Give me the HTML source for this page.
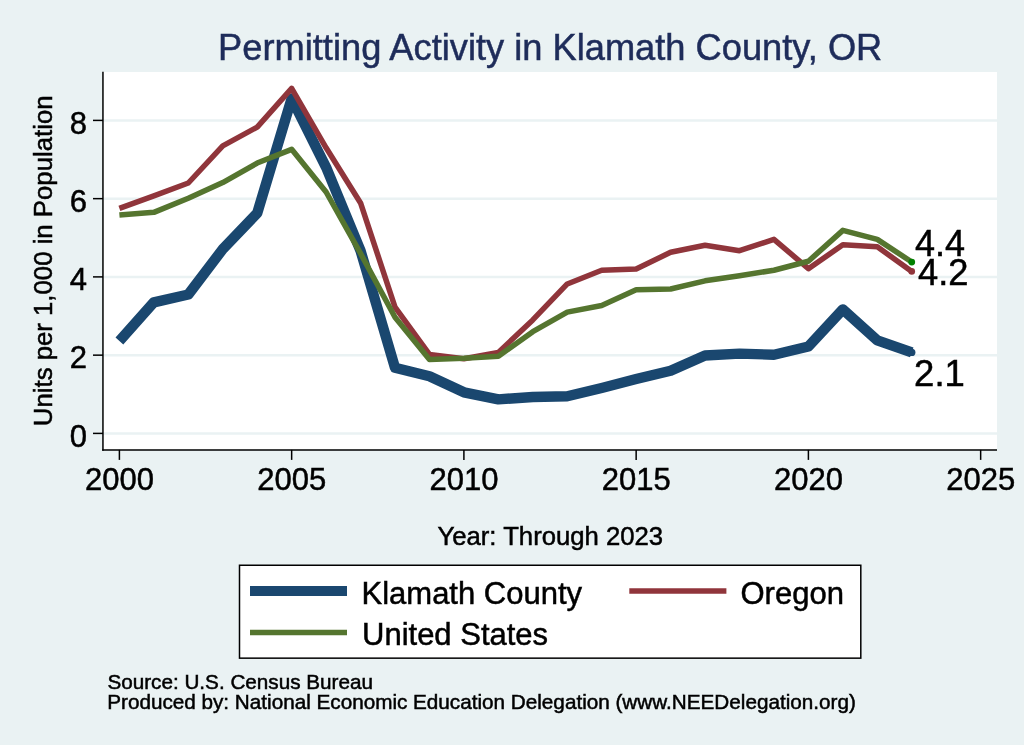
<!DOCTYPE html>
<html><head><meta charset="utf-8"><title>Permitting Activity in Klamath County, OR</title>
<style>
html,body{margin:0;padding:0;background:#EAF2F3;}
body{width:1024px;height:745px;overflow:hidden;}
svg{display:block;will-change:transform;}
text{font-family:'Liberation Sans', Arial, Helvetica, sans-serif;fill:#000;stroke:#000;stroke-width:0.5px;}
</style></head><body>
<svg width="1024" height="745" viewBox="0 0 1024 745">
<rect x="0" y="0" width="1024" height="745" fill="#EAF2F3"/>
<text x="550.2" y="59.8" text-anchor="middle" font-size="36.25" style="fill:#1E2C5A;stroke:#1E2C5A">Permitting Activity in Klamath County, OR</text>
<rect x="103" y="72" width="894" height="377.5" fill="#fff"/>
<line x1="103" y1="433.40" x2="997" y2="433.40" stroke="#EAF2F3" stroke-width="2.5"/><line x1="103" y1="355.15" x2="997" y2="355.15" stroke="#EAF2F3" stroke-width="2.5"/><line x1="103" y1="276.90" x2="997" y2="276.90" stroke="#EAF2F3" stroke-width="2.5"/><line x1="103" y1="198.65" x2="997" y2="198.65" stroke="#EAF2F3" stroke-width="2.5"/><line x1="103" y1="120.40" x2="997" y2="120.40" stroke="#EAF2F3" stroke-width="2.5"/>
<g fill="none" stroke-linejoin="round" stroke-linecap="butt">
<polyline points="119.40,341.06 153.85,302.33 188.30,294.51 222.75,249.12 257.20,213.13 291.65,98.49 326.10,167.35 360.55,250.69 395.00,367.67 429.45,376.28 463.90,392.32 498.35,399.36 532.80,397.01 567.25,396.23 601.70,388.01 636.15,379.02 670.60,370.80 705.05,355.54 739.50,353.58 773.95,354.76 808.40,346.54 842.85,309.37 877.30,340.28 911.75,352.41" stroke="#1A476F" stroke-width="10.4"/>
<polyline points="119.40,208.43 153.85,195.91 188.30,183.00 222.75,145.83 257.20,127.05 291.65,88.32 326.10,147.79 360.55,202.95 395.00,307.03 429.45,354.37 463.90,358.67 498.35,352.41 532.80,319.94 567.25,283.94 601.70,270.25 636.15,269.07 670.60,252.25 705.05,245.21 739.50,250.69 773.95,239.34 808.40,268.68 842.85,244.82 877.30,246.77 911.75,271.42" stroke="#90353B" stroke-width="5.5"/>
<polyline points="119.40,215.08 153.85,212.34 188.30,198.26 222.75,182.61 257.20,163.05 291.65,149.35 326.10,192.00 360.55,253.42 395.00,317.20 429.45,359.45 463.90,358.28 498.35,356.32 532.80,331.67 567.25,312.11 601.70,305.46 636.15,289.81 670.60,289.03 705.05,280.81 739.50,275.73 773.95,270.25 808.40,261.25 842.85,230.34 877.30,239.34 911.75,262.03" stroke="#55752F" stroke-width="5.5"/>
</g>
<circle cx="911.75" cy="352.41" r="3.7" fill="#1A476F"/>
<circle cx="911.75" cy="271.42" r="3.3" fill="#90353B"/>
<circle cx="911.75" cy="262.03" r="3.4" fill="#008000"/>
<text x="915" y="255.8" font-size="36">4.4</text>
<text x="918" y="284.7" font-size="36.3">4.2</text>
<text x="914.1" y="385.7" font-size="36.5">2.1</text>
<line x1="102.95" y1="71.7" x2="102.95" y2="450.7" stroke="#000" stroke-width="1.5"/>
<line x1="102.2" y1="449.95" x2="997" y2="449.95" stroke="#000" stroke-width="1.5"/>
<line x1="93" y1="433.40" x2="103" y2="433.40" stroke="#000" stroke-width="1.5"/><line x1="93" y1="355.15" x2="103" y2="355.15" stroke="#000" stroke-width="1.5"/><line x1="93" y1="276.90" x2="103" y2="276.90" stroke="#000" stroke-width="1.5"/><line x1="93" y1="198.65" x2="103" y2="198.65" stroke="#000" stroke-width="1.5"/><line x1="93" y1="120.40" x2="103" y2="120.40" stroke="#000" stroke-width="1.5"/><text x="87" y="446.70" text-anchor="end" font-size="31">0</text><text x="87" y="368.45" text-anchor="end" font-size="31">2</text><text x="87" y="290.20" text-anchor="end" font-size="31">4</text><text x="87" y="211.95" text-anchor="end" font-size="31">6</text><text x="87" y="133.70" text-anchor="end" font-size="31">8</text><line x1="119.40" y1="449.9" x2="119.40" y2="459.9" stroke="#000" stroke-width="1.5"/><line x1="291.65" y1="449.9" x2="291.65" y2="459.9" stroke="#000" stroke-width="1.5"/><line x1="463.90" y1="449.9" x2="463.90" y2="459.9" stroke="#000" stroke-width="1.5"/><line x1="636.15" y1="449.9" x2="636.15" y2="459.9" stroke="#000" stroke-width="1.5"/><line x1="808.40" y1="449.9" x2="808.40" y2="459.9" stroke="#000" stroke-width="1.5"/><line x1="980.65" y1="449.9" x2="980.65" y2="459.9" stroke="#000" stroke-width="1.5"/><text x="119.40" y="490" text-anchor="middle" font-size="31">2000</text><text x="291.65" y="490" text-anchor="middle" font-size="31">2005</text><text x="463.90" y="490" text-anchor="middle" font-size="31">2010</text><text x="636.15" y="490" text-anchor="middle" font-size="31">2015</text><text x="808.40" y="490" text-anchor="middle" font-size="31">2020</text><text x="980.65" y="490" text-anchor="middle" font-size="31">2025</text>
<text transform="translate(52,260.8) rotate(-90)" text-anchor="middle" font-size="25.75">Units per 1,000 in Population</text>
<text x="550.3" y="545" text-anchor="middle" font-size="25.7">Year: Through 2023</text>
<rect x="239.5" y="565.25" width="621.3" height="92.9" fill="#fff" stroke="#000" stroke-width="1.5"/>
<line x1="250" y1="591" x2="347" y2="591" stroke="#1A476F" stroke-width="10.2"/>
<line x1="629.3" y1="591.1" x2="726.4" y2="591.1" stroke="#90353B" stroke-width="5.5"/>
<line x1="250" y1="632.4" x2="347" y2="632.4" stroke="#55752F" stroke-width="5.5"/>
<text x="361.5" y="604" font-size="31">Klamath County</text>
<text x="740.5" y="604" font-size="31">Oregon</text>
<text x="362" y="644.5" font-size="31">United States</text>
<text x="107.4" y="688.9" font-size="20.7">Source: U.S. Census Bureau</text>
<text x="107.2" y="708.8" font-size="20.7">Produced by: National Economic Education Delegation (www.NEEDelegation.org)</text>
</svg>
</body></html>
